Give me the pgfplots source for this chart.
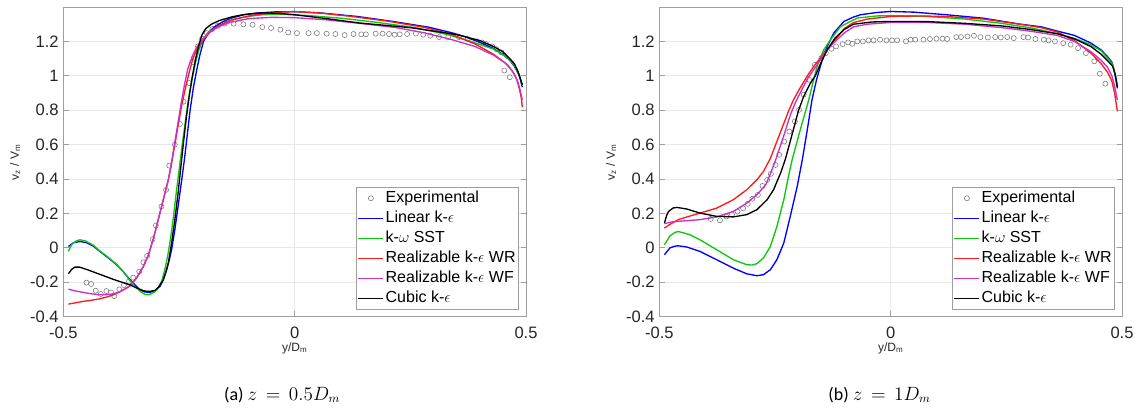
\documentclass[border=0pt]{standalone}
\usepackage{fontspec}
\setmainfont{Liberation Sans}
\newfontfamily\capfont{Carlito}
\usepackage{pgfplots}
\pgfplotsset{compat=1.18}

\definecolor{mblue}{rgb}{0,0,1}
\definecolor{mgreen}{rgb}{0.05,0.78,0.05}
\definecolor{mred}{rgb}{1,0.1,0.1}
\definecolor{mmag}{rgb}{0.78,0.2,0.78}
\definecolor{axgray}{rgb}{0.62,0.62,0.62}
\definecolor{gridgray}{rgb}{0.91,0.91,0.91}
\definecolor{expgray}{rgb}{0.45,0.45,0.45}
\definecolor{txt}{rgb}{0.15,0.15,0.15}

\pgfplotsset{
  panel/.style={
    scale only axis, width=347pt, height=232pt,
    xmin=-0.5, xmax=0.5, ymin=-0.4, ymax=1.398,
    xtick={-0.5,0,0.5},
    ytick={-0.4,-0.2,0,0.2,0.4,0.6,0.8,1,1.2},
    xmajorgrids, ymajorgrids,
    grid style={gridgray, line width=0.6pt},
    axis line style={axgray, line width=0.7pt},
    tick style={axgray, line width=0.7pt},
    tick align=inside, major tick length=4pt,
    ticklabel style={font=\fontsize{12.4}{14}\selectfont, text=txt},
    /pgf/number format/assume math mode=true,
    xticklabel style={yshift=-4pt},
    xlabel={y/D\textsubscript{m}},
    ylabel={v\textsubscript{z} / V\textsubscript{m}},
    label style={font=\fontsize{9}{11}\selectfont, text=txt},
    xlabel style={at={(axis description cs:0.5,0)}, anchor=center, yshift=-23.5pt},
    ylabel style={at={(axis description cs:-0.104,0.5)}, anchor=center},
    clip mode=individual,
    legend cell align=left,
    legend style={at={(axis description cs:1,0)}, anchor=south east,
      xshift=-5.3pt, yshift=5.5pt, draw=axgray, line width=0.6pt,
      font=\fontsize{12}{14}\selectfont, text=black,
      inner xsep=1pt, inner ysep=0.5pt,
      nodes={inner sep=1.2pt, text height=9.2pt, text depth=3.4pt}},
  },
  expe/.style={only marks, mark=o, mark size=1.9pt, expgray, line width=0.4pt,
    legend image code/.code={\draw[##1] plot coordinates {(0.33cm,0cm)};}},
  mline/.style={no marks, line width=1pt, #1,
    legend image code/.code={\draw[##1] (0cm,0cm) -- (0.66cm,0cm);}},
}

\begin{document}
\begin{tikzpicture}
\path[use as bounding box] (-47.5pt,-68.5pt) rectangle ++(851.25pt,306pt);

% ---------------- panel (a) ----------------
\begin{axis}[panel, name=pa, at={(0pt,0pt)}, anchor=south west]
\addplot[expe] coordinates {
(-0.45,-0.202) (-0.44,-0.21) (-0.43,-0.249) (-0.419,-0.268) (-0.407,-0.251)
(-0.397,-0.26) (-0.39,-0.28) (-0.379,-0.241) (-0.369,-0.216) (-0.358,-0.196)
(-0.349,-0.173) (-0.336,-0.138) (-0.327,-0.084) (-0.319,-0.047) (-0.307,0.05)
(-0.3,0.13) (-0.288,0.24) (-0.278,0.337) (-0.271,0.478) (-0.259,0.6)
(-0.248,0.72) (-0.24,0.85) (-0.228,0.958) (-0.22,1.08) (-0.209,1.171)
(-0.2,1.216) (-0.19,1.248) (-0.178,1.272) (-0.166,1.291) (-0.151,1.303)
(-0.132,1.303) (-0.111,1.299) (-0.091,1.297) (-0.07,1.283) (-0.051,1.278)
(-0.031,1.268) (-0.014,1.252) (0.005,1.248) (0.03,1.248) (0.048,1.248)
(0.069,1.245) (0.088,1.243) (0.108,1.237) (0.127,1.243) (0.144,1.241)
(0.154,1.241) (0.175,1.245) (0.19,1.245) (0.204,1.243) (0.216,1.239)
(0.227,1.241) (0.243,1.243) (0.262,1.245) (0.278,1.239) (0.293,1.233)
(0.312,1.225) (0.332,1.225) (0.355,1.225) (0.374,1.214) (0.393,1.2)
(0.405,1.194) (0.414,1.184) (0.427,1.171) (0.436,1.155) (0.447,1.136)
(0.453,1.031) (0.465,0.992)
};
\addlegendentry{Experimental}
\addplot[mline=mblue] coordinates {
(-0.489,0.008) (-0.478,0.03) (-0.464,0.037) (-0.45,0.03) (-0.435,0.01)
(-0.421,-0.021) (-0.403,-0.058) (-0.385,-0.098) (-0.37,-0.14) (-0.356,-0.185)
(-0.345,-0.215) (-0.334,-0.244) (-0.324,-0.256) (-0.313,-0.259) (-0.302,-0.248)
(-0.291,-0.224) (-0.284,-0.185) (-0.277,-0.127) (-0.271,-0.07) (-0.266,-0.011)
(-0.259,0.105) (-0.252,0.241) (-0.245,0.377) (-0.238,0.52) (-0.232,0.66)
(-0.226,0.8) (-0.219,0.93) (-0.212,1.03) (-0.205,1.12) (-0.197,1.2)
(-0.185,1.255) (-0.174,1.283) (-0.155,1.315) (-0.136,1.336) (-0.11,1.355)
(-0.081,1.365) (-0.04,1.372) (0,1.373) (0.058,1.365) (0.135,1.345)
(0.212,1.316) (0.289,1.283) (0.34,1.25) (0.366,1.229) (0.4,1.195)
(0.428,1.161) (0.45,1.125) (0.465,1.09) (0.475,1.055) (0.482,1.02)
(0.486,0.996) (0.492,0.934)
};
\addlegendentry{Linear k-$\epsilon$}
\addplot[mline=mgreen] coordinates {
(-0.489,-0.02) (-0.482,0.02) (-0.472,0.04) (-0.464,0.047) (-0.452,0.04)
(-0.435,0.015) (-0.421,-0.018) (-0.403,-0.055) (-0.385,-0.095) (-0.37,-0.14)
(-0.356,-0.19) (-0.345,-0.225) (-0.334,-0.252) (-0.326,-0.267) (-0.32,-0.273)
(-0.312,-0.27) (-0.303,-0.256) (-0.295,-0.232) (-0.287,-0.19) (-0.28,-0.12)
(-0.274,-0.04) (-0.268,0.06) (-0.262,0.18) (-0.256,0.32) (-0.249,0.47)
(-0.242,0.62) (-0.235,0.76) (-0.228,0.89) (-0.221,0.99) (-0.214,1.08)
(-0.207,1.15) (-0.2,1.2) (-0.188,1.25) (-0.17,1.28) (-0.15,1.31)
(-0.13,1.33) (-0.1,1.345) (-0.07,1.355) (-0.03,1.358) (0.03,1.35)
(0.1,1.335) (0.18,1.31) (0.26,1.28) (0.33,1.24) (0.38,1.2)
(0.43,1.155) (0.46,1.105) (0.475,1.06) (0.483,1.02) (0.488,0.98) (0.492,0.945)
};
\addlegendentry{k-$\omega$ SST}
\addplot[mline=mred] coordinates {
(-0.489,-0.327) (-0.475,-0.32) (-0.457,-0.311) (-0.44,-0.305) (-0.421,-0.296)
(-0.405,-0.285) (-0.392,-0.273) (-0.38,-0.258) (-0.37,-0.244) (-0.356,-0.221)
(-0.342,-0.176) (-0.327,-0.108) (-0.316,-0.04) (-0.306,0.047) (-0.295,0.163)
(-0.284,0.279) (-0.273,0.396) (-0.266,0.49) (-0.259,0.6) (-0.252,0.71)
(-0.244,0.83) (-0.236,0.93) (-0.228,1.02) (-0.22,1.1) (-0.21,1.16)
(-0.2,1.2) (-0.185,1.25) (-0.165,1.29) (-0.14,1.32) (-0.12,1.335)
(-0.09,1.353) (-0.06,1.362) (-0.03,1.37) (0,1.373) (0.05,1.366)
(0.12,1.346) (0.2,1.318) (0.28,1.282) (0.34,1.24) (0.39,1.185)
(0.43,1.125) (0.455,1.075) (0.47,1.03) (0.48,0.98) (0.486,0.92)
(0.49,0.87) (0.492,0.818)
};
\addlegendentry{Realizable k-$\epsilon$ WR}
\addplot[mline=mmag] coordinates {
(-0.489,-0.24) (-0.475,-0.25) (-0.457,-0.259) (-0.44,-0.267) (-0.421,-0.273)
(-0.405,-0.272) (-0.392,-0.267) (-0.38,-0.257) (-0.37,-0.244) (-0.356,-0.221)
(-0.342,-0.176) (-0.327,-0.108) (-0.316,-0.04) (-0.306,0.047) (-0.295,0.163)
(-0.284,0.279) (-0.273,0.396) (-0.266,0.5) (-0.259,0.615) (-0.252,0.73)
(-0.245,0.845) (-0.238,0.95) (-0.231,1.04) (-0.222,1.11) (-0.212,1.165)
(-0.2,1.21) (-0.185,1.25) (-0.165,1.285) (-0.14,1.31) (-0.1,1.332)
(-0.05,1.34) (0,1.338) (0.07,1.325) (0.14,1.305) (0.22,1.28)
(0.28,1.25) (0.34,1.21) (0.39,1.17) (0.43,1.12) (0.46,1.065)
(0.475,1.01) (0.483,0.96) (0.488,0.91) (0.492,0.86)
};
\addlegendentry{Realizable k-$\epsilon$ WF}
\addplot[mline=black] coordinates {
(-0.489,-0.15) (-0.482,-0.125) (-0.475,-0.112) (-0.465,-0.112) (-0.45,-0.125)
(-0.43,-0.145) (-0.41,-0.165) (-0.39,-0.185) (-0.37,-0.203) (-0.356,-0.215)
(-0.34,-0.235) (-0.328,-0.248) (-0.32,-0.253) (-0.311,-0.252) (-0.302,-0.248)
(-0.293,-0.225) (-0.284,-0.186) (-0.278,-0.14) (-0.273,-0.088) (-0.266,0.028)
(-0.259,0.163) (-0.252,0.318) (-0.246,0.47) (-0.24,0.62) (-0.234,0.76)
(-0.228,0.88) (-0.221,1.0) (-0.214,1.1) (-0.206,1.19) (-0.2,1.24)
(-0.192,1.275) (-0.18,1.3) (-0.162,1.322) (-0.135,1.343) (-0.112,1.355)
(-0.085,1.363) (-0.061,1.366) (-0.03,1.362) (0,1.355) (0.07,1.332)
(0.14,1.307) (0.25,1.28) (0.35,1.24) (0.4,1.205) (0.43,1.17) (0.45,1.14)
(0.465,1.1) (0.475,1.07) (0.482,1.03) (0.487,0.99) (0.492,0.948)
};
\addlegendentry{Cubic k-$\epsilon$}
\end{axis}
\node[font=\capfont\fontsize{13.5}{16}\selectfont, text=black] at ([xshift=-9.4pt, yshift=-58.7pt]pa.south) {(a) $z\,=\,0.5D_m$};

% ---------------- panel (b) ----------------
\begin{axis}[panel, name=pb, at={(447pt,0pt)}, anchor=south west]
\addplot[expe] coordinates {
(-0.389,0.168) (-0.369,0.16) (-0.355,0.182) (-0.343,0.195) (-0.331,0.211)
(-0.319,0.23) (-0.309,0.256) (-0.299,0.285) (-0.287,0.308) (-0.277,0.36)
(-0.267,0.395) (-0.259,0.43) (-0.249,0.482) (-0.241,0.541) (-0.23,0.618)
(-0.219,0.676) (-0.207,0.735) (-0.198,0.802) (-0.188,0.89) (-0.176,0.977)
(-0.164,1.064) (-0.15,1.103) (-0.14,1.132) (-0.128,1.157) (-0.118,1.171)
(-0.104,1.184) (-0.092,1.194) (-0.083,1.186) (-0.072,1.2) (-0.06,1.2)
(-0.048,1.206) (-0.037,1.206) (-0.023,1.21) (-0.009,1.206) (0.003,1.206)
(0.014,1.206) (0.033,1.2) (0.043,1.21) (0.053,1.21) (0.071,1.21)
(0.085,1.214) (0.099,1.216) (0.112,1.216) (0.122,1.214) (0.142,1.225)
(0.152,1.225) (0.166,1.229) (0.18,1.233) (0.194,1.225) (0.21,1.223)
(0.226,1.225) (0.238,1.223) (0.252,1.225) (0.266,1.219) (0.287,1.225)
(0.297,1.223) (0.313,1.214) (0.331,1.21) (0.341,1.206) (0.355,1.2)
(0.373,1.19) (0.389,1.181) (0.405,1.161) (0.422,1.132) (0.44,1.084)
(0.452,1.012) (0.464,0.954)
};
\addlegendentry{Experimental}
\addplot[mline=mblue] coordinates {
(-0.489,-0.04) (-0.477,0.0) (-0.466,0.01) (-0.459,0.012) (-0.441,0.005)
(-0.412,-0.021) (-0.376,-0.069) (-0.34,-0.118) (-0.311,-0.151) (-0.289,-0.162)
(-0.275,-0.156) (-0.26,-0.127) (-0.246,-0.069) (-0.231,0.028) (-0.217,0.183)
(-0.202,0.357) (-0.191,0.512) (-0.18,0.69) (-0.17,0.861) (-0.16,0.98)
(-0.152,1.055) (-0.145,1.12) (-0.137,1.171) (-0.123,1.249) (-0.101,1.316)
(-0.08,1.342) (-0.065,1.355) (-0.03,1.368) (0,1.374) (0.05,1.37)
(0.12,1.355) (0.2,1.335) (0.28,1.3) (0.325,1.285) (0.36,1.26)
(0.397,1.235) (0.433,1.19) (0.455,1.15) (0.469,1.11) (0.478,1.08)
(0.484,1.02) (0.49,0.927)
};
\addlegendentry{Linear k-$\epsilon$}
\addplot[mline=mgreen] coordinates {
(-0.489,0.018) (-0.477,0.07) (-0.466,0.09) (-0.459,0.095) (-0.445,0.085)
(-0.434,0.076) (-0.412,0.047) (-0.376,-0.011) (-0.34,-0.069) (-0.311,-0.098)
(-0.3,-0.1) (-0.289,-0.092) (-0.275,-0.059) (-0.26,0.008) (-0.246,0.124)
(-0.231,0.279) (-0.221,0.415) (-0.213,0.512) (-0.195,0.69) (-0.177,0.861)
(-0.168,0.96) (-0.159,1.055) (-0.145,1.15) (-0.13,1.21) (-0.108,1.287)
(-0.072,1.336) (-0.03,1.348) (0,1.35) (0.08,1.345) (0.16,1.33)
(0.24,1.305) (0.31,1.275) (0.36,1.245) (0.4,1.215) (0.433,1.18)
(0.455,1.145) (0.469,1.103) (0.48,1.065) (0.486,1.0) (0.49,0.94)
};
\addlegendentry{k-$\omega$ SST}
\addplot[mline=mred] coordinates {
(-0.489,0.115) (-0.475,0.14) (-0.459,0.164) (-0.44,0.18) (-0.412,0.202)
(-0.376,0.231) (-0.34,0.28) (-0.311,0.338) (-0.289,0.396) (-0.275,0.444)
(-0.26,0.52) (-0.25,0.59) (-0.24,0.66) (-0.23,0.73) (-0.22,0.8)
(-0.21,0.86) (-0.2,0.91) (-0.19,0.955) (-0.18,1.0) (-0.165,1.06)
(-0.15,1.11) (-0.137,1.152) (-0.12,1.21) (-0.1,1.275)
(-0.08,1.31) (-0.05,1.33) (0,1.345) (0.06,1.348) (0.12,1.345)
(0.2,1.33) (0.28,1.3) (0.325,1.28) (0.36,1.255) (0.397,1.205)
(0.433,1.132) (0.455,1.07) (0.469,1.02) (0.478,0.97) (0.484,0.9)
(0.49,0.793)
};
\addlegendentry{Realizable k-$\epsilon$ WR}
\addplot[mline=mmag] coordinates {
(-0.489,0.14) (-0.475,0.15) (-0.459,0.154) (-0.412,0.164) (-0.376,0.18)
(-0.34,0.212) (-0.311,0.26) (-0.289,0.309) (-0.27,0.367) (-0.26,0.43)
(-0.25,0.5) (-0.24,0.58) (-0.23,0.66) (-0.222,0.73) (-0.215,0.785)
(-0.205,0.85) (-0.19,0.93) (-0.178,0.99) (-0.16,1.06) (-0.148,1.11)
(-0.137,1.152) (-0.12,1.2) (-0.1,1.25) (-0.08,1.285)
(-0.05,1.3) (0,1.31) (0.08,1.31) (0.16,1.3) (0.24,1.28)
(0.3,1.26) (0.36,1.235) (0.397,1.2) (0.433,1.14) (0.455,1.09)
(0.469,1.049) (0.478,1.0) (0.484,0.94) (0.49,0.86)
};
\addlegendentry{Realizable k-$\epsilon$ WF}
\addplot[mline=black] coordinates {
(-0.489,0.144) (-0.484,0.19) (-0.48,0.212) (-0.47,0.232) (-0.462,0.235)
(-0.441,0.226) (-0.412,0.202) (-0.376,0.183) (-0.34,0.18) (-0.311,0.193)
(-0.289,0.222) (-0.267,0.28) (-0.253,0.338) (-0.245,0.39) (-0.238,0.434)
(-0.228,0.512) (-0.218,0.61) (-0.208,0.71) (-0.199,0.8) (-0.188,0.88)
(-0.175,0.95) (-0.163,1.0) (-0.15,1.08)
(-0.137,1.152) (-0.12,1.22) (-0.1,1.27) (-0.08,1.3) (-0.04,1.313)
(0,1.316) (0.08,1.315) (0.16,1.305) (0.24,1.29) (0.3,1.27)
(0.36,1.245) (0.397,1.215) (0.433,1.17) (0.455,1.125) (0.469,1.087)
(0.48,1.055) (0.486,1.0) (0.49,0.935)
};
\addlegendentry{Cubic k-$\epsilon$}
\end{axis}
\node[font=\capfont\fontsize{13.5}{16}\selectfont, text=black] at ([xshift=-8.3pt, yshift=-58.7pt]pb.south) {(b) $z\,=\,1D_m$};
\end{tikzpicture}
\end{document}
